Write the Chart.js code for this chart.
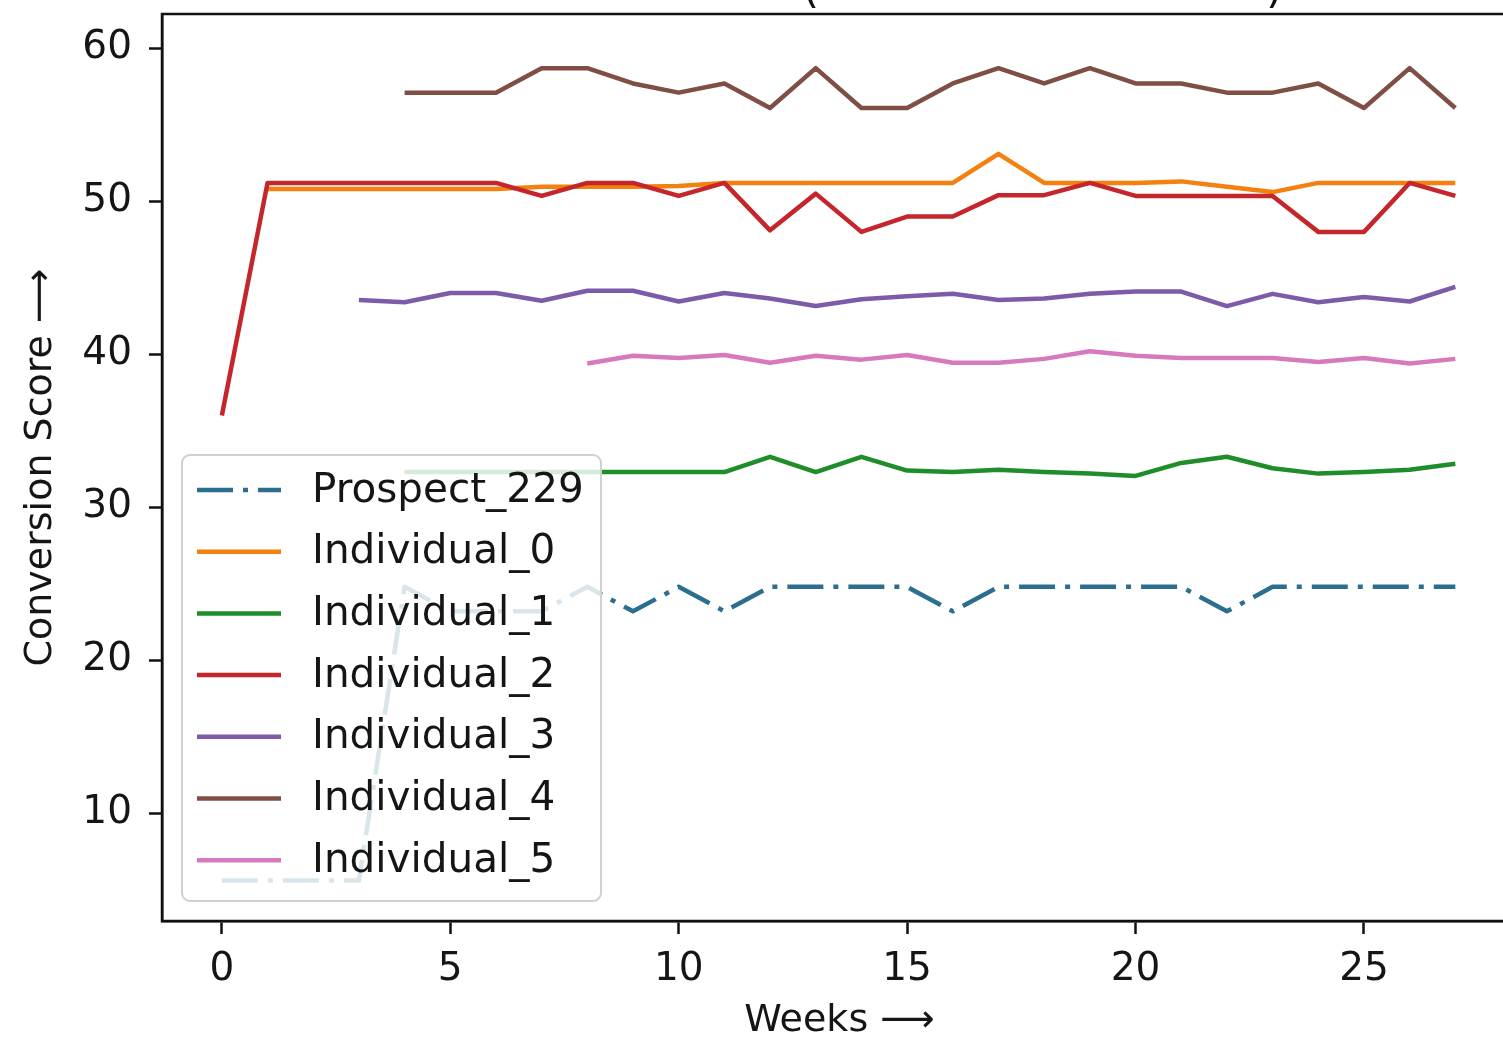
<!DOCTYPE html>
<html>
<head>
<meta charset="utf-8">
<script src="https://cdn.jsdelivr.net/npm/chart.js@4.4.1/dist/chart.umd.min.js"></script>
<style>
  html, body { margin: 0; padding: 0; background: #ffffff; overflow: hidden; }
  #wrap { width: 1503px; height: 1040px; overflow: hidden; position: relative; background: #fff; }
  #c { position: absolute; left: 0; top: 0; }
</style>
</head>
<body>
<div id="wrap"><canvas id="c" width="1540" height="1040"></canvas></div>
<script>
// ---- data ----
const weeks = [0,1,2,3,4,5,6,7,8,9,10,11,12,13,14,15,16,17,18,19,20,21,22,23,24,25,26,27];
const seriesNames = ['Prospect_229','Individual_0','Individual_1','Individual_2','Individual_3','Individual_4','Individual_5'];
const prospect229 = [5.6,5.6,5.6,5.6,24.8,23.2,23.2,23.2,24.8,23.2,24.8,23.2,24.8,24.8,24.8,24.8,23.2,24.8,24.8,24.8,24.8,24.8,23.2,24.8,24.8,24.8,24.8,24.8];
const individual0 = [null,50.8,50.8,50.8,50.8,50.8,50.8,50.95,50.95,50.95,51.0,51.2,51.2,51.2,51.2,51.2,51.2,53.1,51.2,51.2,51.2,51.3,50.95,50.6,51.2,51.2,51.2,51.2];
const individual1 = [null,null,null,null,32.3,32.3,32.3,32.3,32.3,32.3,32.3,32.3,33.3,32.3,33.3,32.4,32.3,32.45,32.3,32.2,32.05,32.9,33.3,32.55,32.2,32.3,32.45,32.85];
const individual2 = [36.0,51.2,51.2,51.2,51.2,51.2,51.2,50.35,51.2,51.2,50.35,51.2,48.1,50.5,48.0,49.0,49.0,50.4,50.4,51.2,50.35,50.35,50.35,50.35,48.0,48.0,51.2,50.35];
const individual3 = [null,null,null,43.55,43.4,44.0,44.0,43.5,44.15,44.15,43.45,44.0,43.65,43.15,43.6,43.8,43.95,43.55,43.65,43.95,44.1,44.1,43.15,43.95,43.4,43.75,43.45,44.4];
const individual4 = [null,null,null,null,57.1,57.1,57.1,58.7,58.7,57.7,57.1,57.7,56.1,58.7,56.1,56.1,57.7,58.7,57.7,58.7,57.7,57.7,57.1,57.1,57.7,56.1,58.7,56.1];
const individual5 = [null,null,null,null,null,null,null,null,39.4,39.9,39.75,39.95,39.45,39.9,39.65,39.95,39.45,39.45,39.7,40.2,39.9,39.75,39.75,39.75,39.5,39.75,39.4,39.7];
const xTickValues = [0,5,10,15,20,25];
const yTickValues = [10,20,30,40,50,60];
const xAxisTitle = 'Weeks \u27F6';
const yAxisTitle = 'Conversion Score \u27F6';

// ---- styling ----
const colors = ['#2b6e8e','#f3800f','#1f8d2a','#c4262b','#7c5ba9','#7f4f46','#d77abd'];
const prospectDash = [36, 10, 5, 10];
const FONT = "'DejaVu Sans', 'Liberation Sans', sans-serif";

const allSeries = [prospect229, individual0, individual1, individual2, individual3, individual4, individual5];

const datasets = allSeries.map((vals, i) => ({
  label: seriesNames[i],
  data: vals.map((v, k) => ({ x: weeks[k], y: v })),
  borderColor: colors[i],
  backgroundColor: colors[i],
  borderWidth: 4.5,
  borderDash: i === 0 ? prospectDash : [],
  borderJoinStyle: 'round',
  borderCapStyle: 'butt',
  pointRadius: 0,
  pointHoverRadius: 0,
  tension: 0,
  fill: false,
  spanGaps: false,
  order: allSeries.length - i
}));

const W = 1540, H = 1040;
const AREA = { left: 162, top: 14, right: 1517, bottom: 921 };

function noPad(s) { s.paddingTop = 0; s.paddingBottom = 0; s.paddingLeft = 0; s.paddingRight = 0; }

const bgPlugin = {
  id: 'bg',
  beforeDraw(chart) {
    const ctx = chart.ctx;
    ctx.save();
    ctx.fillStyle = '#ffffff';
    ctx.fillRect(0, 0, chart.width, chart.height);
    ctx.restore();
  }
};

const framePlugin = {
  id: 'frame',
  afterDraw(chart) {
    const ctx = chart.ctx;
    const a = chart.chartArea;
    ctx.save();
    ctx.strokeStyle = '#111111';
    ctx.lineWidth = 2.5;
    ctx.strokeRect(a.left, a.top, a.right - a.left, a.bottom - a.top);
    // title (only the bottom of the parentheses remains visible in the crop)
    ctx.fillStyle = '#111111';
    ctx.font = '44px ' + FONT;
    ctx.textBaseline = 'alphabetic';
    ctx.textAlign = 'left';
    ctx.fillText('(', 802, 2);
    ctx.fillText(')', 1266, 2);
    ctx.restore();
  }
};

const legendPlugin = {
  id: 'boxLegend',
  afterDatasetsDraw(chart) {
    const ctx = chart.ctx;
    const x = 182, y = 455, w = 419, h = 446, r = 8;
    ctx.save();
    ctx.beginPath();
    ctx.roundRect(x, y, w, h, r);
    ctx.fillStyle = 'rgba(255,255,255,0.82)';
    ctx.fill();
    ctx.lineWidth = 2;
    ctx.strokeStyle = '#d0d0d0';
    ctx.stroke();
    const rowH = 61.7, firstY = 490;
    chart.data.datasets.forEach((ds, i) => {
      const cy = firstY + i * rowH;
      ctx.beginPath();
      ctx.setLineDash(ds.borderDash || []);
      ctx.lineWidth = ds.borderWidth;
      ctx.strokeStyle = ds.borderColor;
      ctx.lineCap = 'butt';
      ctx.moveTo(197, cy);
      ctx.lineTo(281, cy);
      ctx.stroke();
      ctx.setLineDash([]);
      ctx.fillStyle = '#151515';
      ctx.font = '40.5px ' + FONT;
      ctx.textBaseline = 'middle';
      ctx.textAlign = 'left';
      ctx.fillText(ds.label, 312, cy + 1);
    });
    ctx.restore();
  }
};

new Chart(document.getElementById('c'), {
  type: 'line',
  data: { datasets },
  options: {
    responsive: false,
    devicePixelRatio: 1,
    animation: false,
    events: [],
    layout: { padding: { left: 0, top: AREA.top, right: W - AREA.right, bottom: 0 } },
    plugins: {
      legend: { display: false },
      title: { display: false },
      tooltip: { enabled: false }
    },
    scales: {
      x: {
        type: 'linear',
        min: -1.31,
        max: 28.35,
        afterBuildTicks: s => { s.ticks = xTickValues.map(v => ({ value: v })); },
        afterFit: s => { s.height = H - AREA.bottom; noPad(s); },
        grid: { display: true, drawOnChartArea: false, drawTicks: true, tickLength: 13, tickWidth: 2.5, tickColor: '#111111', color: '#111111' },
        border: { display: true, color: '#111111', width: 2.5 },
        ticks: { color: '#151515', font: { family: FONT, size: 39, lineHeight: 1.2 }, padding: 12, maxRotation: 0, autoSkip: false },
        title: { display: true, text: xAxisTitle, color: '#151515', font: { family: FONT, size: 38, lineHeight: 1 }, padding: { top: 0, bottom: 0 } }
      },
      y: {
        type: 'linear',
        min: 2.96,
        max: 62.24,
        afterBuildTicks: s => { s.ticks = yTickValues.map(v => ({ value: v })); },
        afterFit: s => { s.width = AREA.left; noPad(s); },
        grid: { display: true, drawOnChartArea: false, drawTicks: true, tickLength: 13, tickWidth: 2.5, tickColor: '#111111', color: '#111111' },
        border: { display: true, color: '#111111', width: 2.5 },
        ticks: { color: '#151515', font: { family: FONT, size: 39, lineHeight: 1.2 }, padding: 17, autoSkip: false },
        title: { display: true, text: yAxisTitle, color: '#151515', font: { family: FONT, size: 38, lineHeight: 1 }, padding: { top: 22, bottom: 0 } }
      }
    }
  },
  plugins: [bgPlugin, legendPlugin, framePlugin]
});
</script>
</body>
</html>
